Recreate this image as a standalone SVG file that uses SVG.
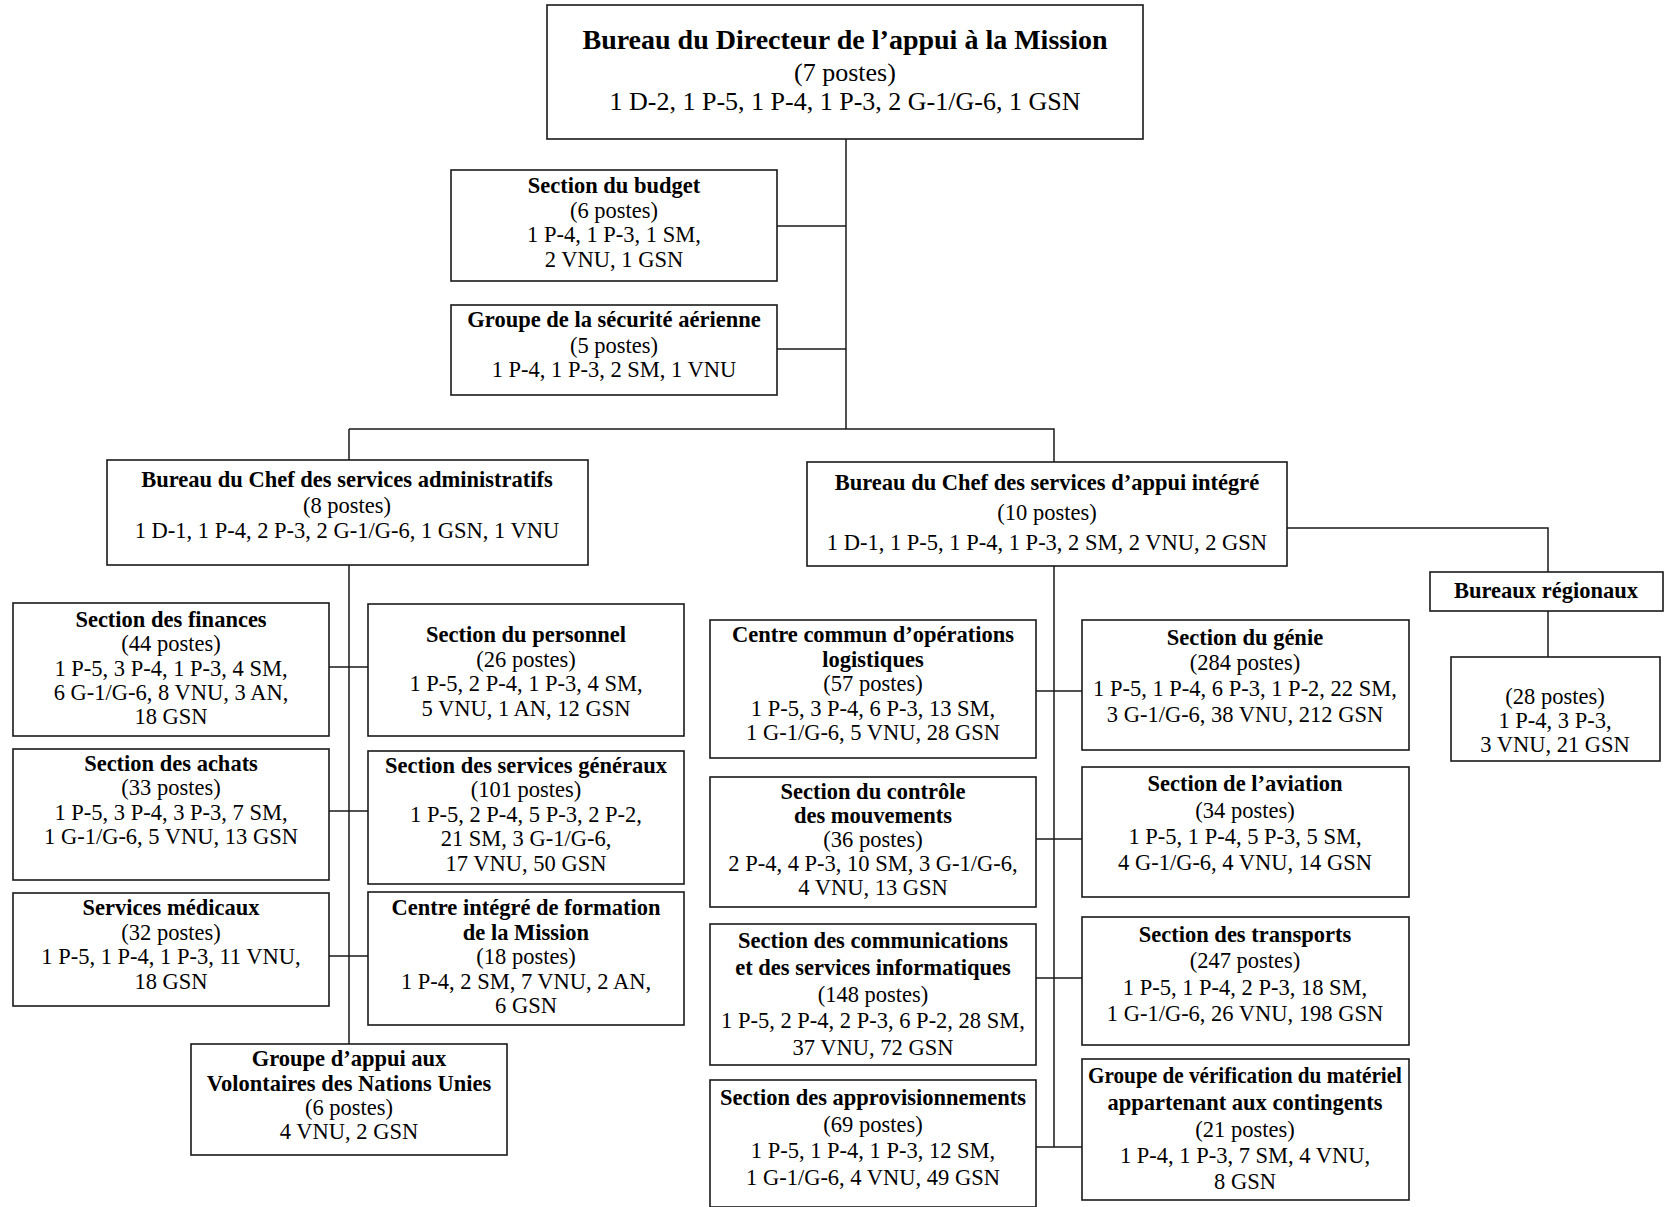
<svg xmlns="http://www.w3.org/2000/svg" width="1665" height="1207" viewBox="0 0 1665 1207">
<style>
.b{fill:#fff;stroke:#1a1a1a;stroke-width:1.6}
.c{fill:none;stroke:#1a1a1a;stroke-width:1.5}
text{font-family:"Liberation Serif","Times New Roman",serif;fill:#000;text-anchor:middle;font-size:22.5px}
.t{font-weight:bold}
.big{font-size:26px}
.bigt{font-size:28px;font-weight:bold}
</style>
<rect width="1665" height="1207" fill="#fff"/>
<g id="connectors">
<path class="c" d="M846 139V429M777 226H846M777 349H846M349 429H1054V462M349 429V460"/>
<path class="c" d="M349 565V1044M329 667H368M329 811H368M329 956H368"/>
<path class="c" d="M1054 566V1147M1036 691H1082M1036 839H1082M1036 978H1082M1036 1147H1082"/>
<path class="c" d="M1287 528H1548V572M1548 611V657"/>
</g>
<g id="n-directeur"><rect class="b" x="547" y="5" width="596" height="134"/>
<text class="bigt" x="845" y="49">Bureau du Directeur de l’appui à la Mission</text>
<text class="big" x="845" y="81">(7 postes)</text>
<text class="big" x="845" y="110">1 D-2, 1 P-5, 1 P-4, 1 P-3, 2 G-1/G-6, 1 GSN</text></g>
<g id="n-budget"><rect class="b" x="451" y="170" width="326" height="111"/>
<text class="t" x="614" y="193">Section du budget</text>
<text x="614" y="218">(6 postes)</text>
<text x="614" y="242">1 P-4, 1 P-3, 1 SM,</text>
<text x="614" y="267">2 VNU, 1 GSN</text></g>
<g id="n-securite"><rect class="b" x="451" y="305" width="326" height="90"/>
<text class="t" x="614" y="327">Groupe de la sécurité aérienne</text>
<text x="614" y="353">(5 postes)</text>
<text x="614" y="377">1 P-4, 1 P-3, 2 SM, 1 VNU</text></g>
<g id="n-admin"><rect class="b" x="107" y="460" width="481" height="105"/>
<text class="t" x="347" y="487">Bureau du Chef des services administratifs</text>
<text x="347" y="513">(8 postes)</text>
<text x="347" y="538">1 D-1, 1 P-4, 2 P-3, 2 G-1/G-6, 1 GSN, 1 VNU</text></g>
<g id="n-integre"><rect class="b" x="807" y="462" width="480" height="104"/>
<text class="t" x="1047" y="490">Bureau du Chef des services d’appui intégré</text>
<text x="1047" y="520">(10 postes)</text>
<text x="1047" y="550">1 D-1, 1 P-5, 1 P-4, 1 P-3, 2 SM, 2 VNU, 2 GSN</text></g>
<g id="n-regionaux"><rect class="b" x="1430" y="572" width="233" height="39"/>
<text class="t" x="1546" y="598">Bureaux régionaux</text></g>
<g id="n-regionaux-postes"><rect class="b" x="1451" y="657" width="209" height="104"/>
<text x="1555" y="704">(28 postes)</text>
<text x="1555" y="728">1 P-4, 3 P-3,</text>
<text x="1555" y="752">3 VNU, 21 GSN</text></g>
<g id="n-finances"><rect class="b" x="13" y="603" width="316" height="133"/>
<text class="t" x="171" y="627">Section des finances</text>
<text x="171" y="651">(44 postes)</text>
<text x="171" y="676">1 P-5, 3 P-4, 1 P-3, 4 SM,</text>
<text x="171" y="700">6 G-1/G-6, 8 VNU, 3 AN,</text>
<text x="171" y="724">18 GSN</text></g>
<g id="n-personnel"><rect class="b" x="368" y="604" width="316" height="132"/>
<text class="t" x="526" y="642">Section du personnel</text>
<text x="526" y="667">(26 postes)</text>
<text x="526" y="691">1 P-5, 2 P-4, 1 P-3, 4 SM,</text>
<text x="526" y="716">5 VNU, 1 AN, 12 GSN</text></g>
<g id="n-achats"><rect class="b" x="13" y="749" width="316" height="131"/>
<text class="t" x="171" y="771">Section des achats</text>
<text x="171" y="795">(33 postes)</text>
<text x="171" y="820">1 P-5, 3 P-4, 3 P-3, 7 SM,</text>
<text x="171" y="844">1 G-1/G-6, 5 VNU, 13 GSN</text></g>
<g id="n-generaux"><rect class="b" x="368" y="751" width="316" height="133"/>
<text class="t" x="526" y="773">Section des services généraux</text>
<text x="526" y="797">(101 postes)</text>
<text x="526" y="822">1 P-5, 2 P-4, 5 P-3, 2 P-2,</text>
<text x="526" y="846">21 SM, 3 G-1/G-6,</text>
<text x="526" y="871">17 VNU, 50 GSN</text></g>
<g id="n-medicaux"><rect class="b" x="13" y="893" width="316" height="113"/>
<text class="t" x="171" y="915">Services médicaux</text>
<text x="171" y="940">(32 postes)</text>
<text x="171" y="964">1 P-5, 1 P-4, 1 P-3, 11 VNU,</text>
<text x="171" y="989">18 GSN</text></g>
<g id="n-formation"><rect class="b" x="368" y="892" width="316" height="133"/>
<text class="t" x="526" y="915">Centre intégré de formation</text>
<text class="t" x="526" y="940">de la Mission</text>
<text x="526" y="964">(18 postes)</text>
<text x="526" y="989">1 P-4, 2 SM, 7 VNU, 2 AN,</text>
<text x="526" y="1013">6 GSN</text></g>
<g id="n-vnu"><rect class="b" x="191" y="1044" width="316" height="111"/>
<text class="t" x="349" y="1066">Groupe d’appui aux</text>
<text class="t" x="349" y="1091">Volontaires des Nations Unies</text>
<text x="349" y="1115">(6 postes)</text>
<text x="349" y="1139">4 VNU, 2 GSN</text></g>
<g id="n-ccol"><rect class="b" x="710" y="620" width="326" height="138"/>
<text class="t" x="873" y="642">Centre commun d’opérations</text>
<text class="t" x="873" y="667">logistiques</text>
<text x="873" y="691">(57 postes)</text>
<text x="873" y="716">1 P-5, 3 P-4, 6 P-3, 13 SM,</text>
<text x="873" y="740">1 G-1/G-6, 5 VNU, 28 GSN</text></g>
<g id="n-genie"><rect class="b" x="1082" y="620" width="327" height="130"/>
<text class="t" x="1245" y="645">Section du génie</text>
<text x="1245" y="670">(284 postes)</text>
<text x="1245" y="696">1 P-5, 1 P-4, 6 P-3, 1 P-2, 22 SM,</text>
<text x="1245" y="722">3 G-1/G-6, 38 VNU, 212 GSN</text></g>
<g id="n-mouvements"><rect class="b" x="710" y="777" width="326" height="130"/>
<text class="t" x="873" y="799">Section du contrôle</text>
<text class="t" x="873" y="823">des mouvements</text>
<text x="873" y="847">(36 postes)</text>
<text x="873" y="871">2 P-4, 4 P-3, 10 SM, 3 G-1/G-6,</text>
<text x="873" y="895">4 VNU, 13 GSN</text></g>
<g id="n-aviation"><rect class="b" x="1082" y="767" width="327" height="130"/>
<text class="t" x="1245" y="791">Section de l’aviation</text>
<text x="1245" y="818">(34 postes)</text>
<text x="1245" y="844">1 P-5, 1 P-4, 5 P-3, 5 SM,</text>
<text x="1245" y="870">4 G-1/G-6, 4 VNU, 14 GSN</text></g>
<g id="n-communications"><rect class="b" x="710" y="924" width="326" height="141"/>
<text class="t" x="873" y="948">Section des communications</text>
<text class="t" x="873" y="975">et des services informatiques</text>
<text x="873" y="1002">(148 postes)</text>
<text x="873" y="1028">1 P-5, 2 P-4, 2 P-3, 6 P-2, 28 SM,</text>
<text x="873" y="1055">37 VNU, 72 GSN</text></g>
<g id="n-transports"><rect class="b" x="1082" y="917" width="327" height="128"/>
<text class="t" x="1245" y="942">Section des transports</text>
<text x="1245" y="968">(247 postes)</text>
<text x="1245" y="995">1 P-5, 1 P-4, 2 P-3, 18 SM,</text>
<text x="1245" y="1021">1 G-1/G-6, 26 VNU, 198 GSN</text></g>
<g id="n-approvisionnements"><rect class="b" x="710" y="1080" width="326" height="127"/>
<text class="t" x="873" y="1105">Section des approvisionnements</text>
<text x="873" y="1132">(69 postes)</text>
<text x="873" y="1158">1 P-5, 1 P-4, 1 P-3, 12 SM,</text>
<text x="873" y="1185">1 G-1/G-6, 4 VNU, 49 GSN</text></g>
<g id="n-verification"><rect class="b" x="1082" y="1059" width="327" height="141"/>
<text class="t" x="1245" y="1083" textLength="314" lengthAdjust="spacingAndGlyphs">Groupe de vérification du matériel</text>
<text class="t" x="1245" y="1110">appartenant aux contingents</text>
<text x="1245" y="1137">(21 postes)</text>
<text x="1245" y="1163">1 P-4, 1 P-3, 7 SM, 4 VNU,</text>
<text x="1245" y="1189">8 GSN</text></g>
</svg>
